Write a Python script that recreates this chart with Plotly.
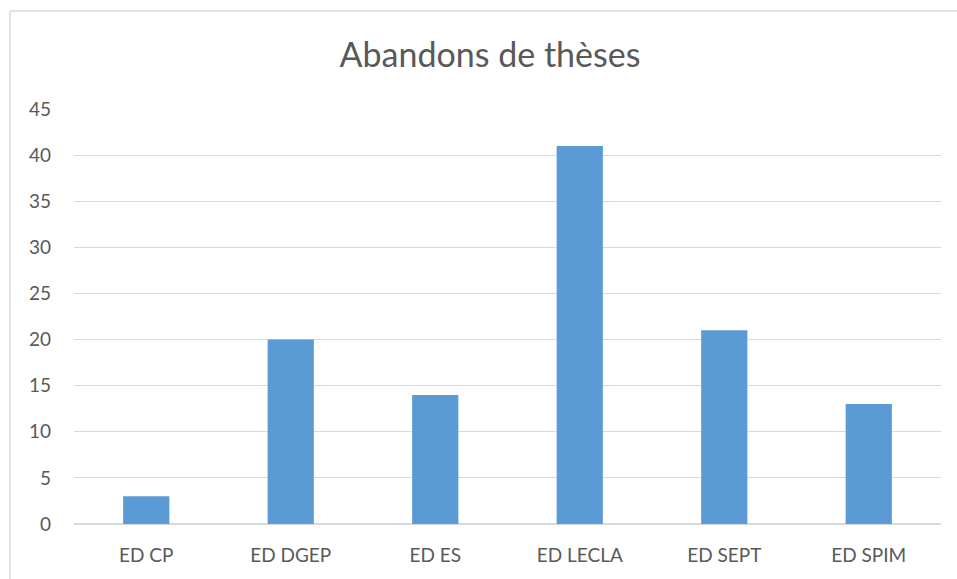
import plotly.graph_objects as go

categories = ["ED CP", "ED DGEP", "ED ES", "ED LECLA", "ED SEPT", "ED SPIM"]
values = [3, 20, 14, 41, 21, 13]
y_ticks = [0, 5, 10, 15, 20, 25, 30, 35, 40, 45]

W, H = 957, 579
ml, mr, mt, mb = 74, 16, 109, 55
pw, ph = W - ml - mr, H - mt - mb

fig = go.Figure(go.Bar(x=categories, y=values, marker=dict(color="#5B9BD5", line=dict(width=0))))

fig.update_layout(
    width=W, height=H,
    margin=dict(l=ml, r=mr, t=mt, b=mb),
    paper_bgcolor="white", plot_bgcolor="white",
    bargap=0.68,
    font=dict(family="Lato, Open Sans, sans-serif", color="#595959", size=19),
    title=dict(text="Abandons de thèses", x=490 / W, xanchor="center", y=1 - 55 / H, yanchor="middle",
               font=dict(size=34, color="#595959", family="Lato, Open Sans, sans-serif")),
    showlegend=False,
)
fig.update_yaxes(range=[0, 45], tickvals=y_ticks, showgrid=True, gridcolor="#d9d9d9", gridwidth=1,
                 zeroline=True, zerolinecolor="#d9d9d9", showline=False, ticks="", ticklen=0,
                 ticklabelstandoff=22,
                 tickfont=dict(size=19, color="#595959"), fixedrange=True)
fig.update_xaxes(showgrid=False, showline=False, ticks="", ticklabelstandoff=18,
                 tickfont=dict(size=19, color="#595959"))

# outer chart border (left and top edges visible)
bx0 = (10 - ml) / pw
bx1 = (W + 20 - ml) / pw
by0 = -(H + 20 - (H - mb)) / ph
by1 = (H - mb - 11) / ph
fig.add_shape(type="line", xref="paper", yref="paper", x0=bx0, x1=bx0, y0=by0, y1=by1,
              line=dict(color="#d9d9d9", width=1.5), layer="below")
fig.add_shape(type="line", xref="paper", yref="paper", x0=bx0, x1=bx1, y0=by1, y1=by1,
              line=dict(color="#d9d9d9", width=1.5), layer="below")

fig.write_html("out.html",
               config={"displayModeBar": False},
               post_script="document.body.style.margin='0';document.body.style.overflow='hidden';")
